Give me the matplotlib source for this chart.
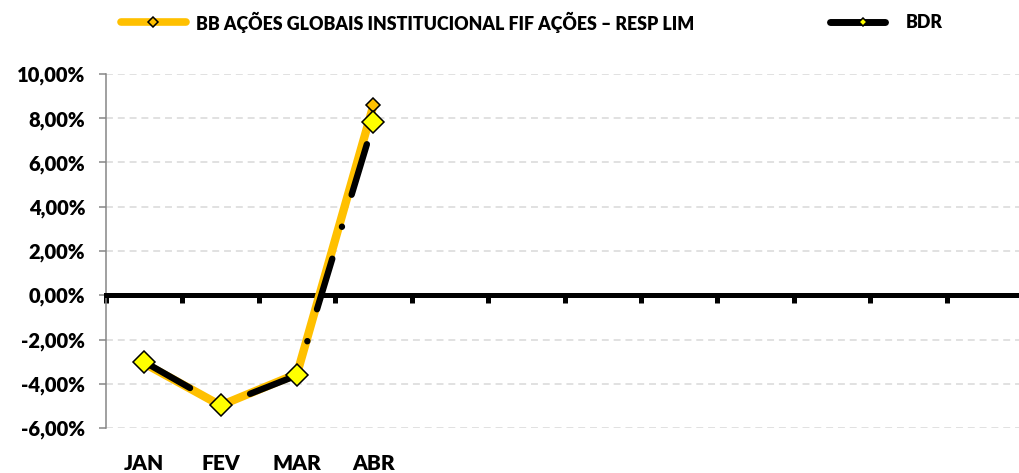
import matplotlib
matplotlib.use('Agg')
import matplotlib.pyplot as plt
from matplotlib.lines import Line2D
from matplotlib.ticker import FixedLocator, FuncFormatter

plt.rcParams['font.family'] = ['Lato', 'DejaVu Sans']
plt.rcParams['font.weight'] = 'heavy'
plt.rcParams['lines.scale_dashes'] = False

# ---- data ----
categories = ['JAN', 'FEV', 'MAR', 'ABR', '', '', '', '', '', '', '', '']
fund_name = 'BB AÇÕES GLOBAIS INSTITUCIONAL FIF AÇÕES – RESP LIM'
bdr_name = 'BDR'
fund_values = [-3.08, -4.98, -3.55, 8.59]
bdr_values = [-3.01, -4.98, -3.62, 7.81]
y_ticks = [-6, -4, -2, 0, 2, 4, 6, 8, 10]

FUND_C = '#FFC000'
BDR_MK = '#FFFF00'
GRID_C = '#D9D9D9'
AXIS_GRAY = '#868686'

W, H = 1020, 473
fig = plt.figure(figsize=(W / 100, H / 100), dpi=100)
ax = fig.add_axes([106 / W, 45 / H, 917 / W, 354 / H])
ax.set_xlim(-0.5, len(categories) - 0.5)
ax.set_ylim(y_ticks[0], y_ticks[-1])

x_f = list(range(len(fund_values)))
x_b = list(range(len(bdr_values)))
ax.plot(x_f, fund_values, color=FUND_C, lw=6, solid_joinstyle='round',
        solid_capstyle='round', marker='D', ms=7, mfc=FUND_C, mec='black',
        mew=1.1, zorder=3)
ax.plot(x_b, bdr_values, color='black', lw=4.6, linestyle=(0, (38, 24, 0.1, 24)),
        dash_capstyle='round', dash_joinstyle='round', marker='D', ms=11.5,
        mfc=BDR_MK, mec='black', mew=1.1, zorder=4)

# y axis
ax.set_yticks(y_ticks)
ax.yaxis.set_major_formatter(FuncFormatter(lambda v, p: f"{v:.2f}%".replace('.', ',')))
ax.tick_params(axis='y', length=5, width=1.1, color=AXIS_GRAY, pad=10,
               labelsize=14.5, direction='out')
ax.spines['left'].set_color(AXIS_GRAY)
ax.spines['left'].set_linewidth(1.1)
ax.yaxis.grid(True, color=GRID_C, lw=1.1, linestyle=(0, (5, 3.5)))
ax.set_axisbelow(True)

# x axis line at zero with boundary ticks
ax.spines['bottom'].set_position(('data', 0))
ax.spines['bottom'].set_color('black')
ax.spines['bottom'].set_linewidth(3.6)
ax.spines['top'].set_visible(False)
ax.spines['right'].set_visible(False)
ax.set_xticks([])
ax.xaxis.set_minor_locator(FixedLocator([i - 0.5 for i in range(len(categories) + 1)]))
ax.tick_params(axis='x', which='minor', length=5.4, width=3.6, color='black',
               direction='out')

sec = ax.secondary_xaxis(0)
sec.set_xticks(range(len(categories)), labels=categories)
sec.tick_params(length=0, pad=19, labelsize=15)
sec.spines['bottom'].set_visible(False)

# legend
def legend_entry(x0, x1, xm, color, lw, mfc, ms, label, tx):
    y = (H - 22) / H
    fig.add_artist(Line2D([x0 / W, x1 / W], [y, y], transform=fig.transFigure,
                          color=color, lw=lw, solid_capstyle='round'))
    fig.add_artist(Line2D([xm / W], [y], transform=fig.transFigure, marker='D',
                          ms=ms, mfc=mfc, mec='black', mew=1.1, ls='none'))
    fig.text(tx / W, y, label, fontsize=12.8, va='center', ha='left')

legend_entry(121, 186, 153, FUND_C, 5.5, FUND_C, 5.2, fund_name, 196)
legend_entry(830, 885, 863, 'black', 5.0, BDR_MK, 4.2, bdr_name, 906)

fig.savefig('out.png', dpi=100)
